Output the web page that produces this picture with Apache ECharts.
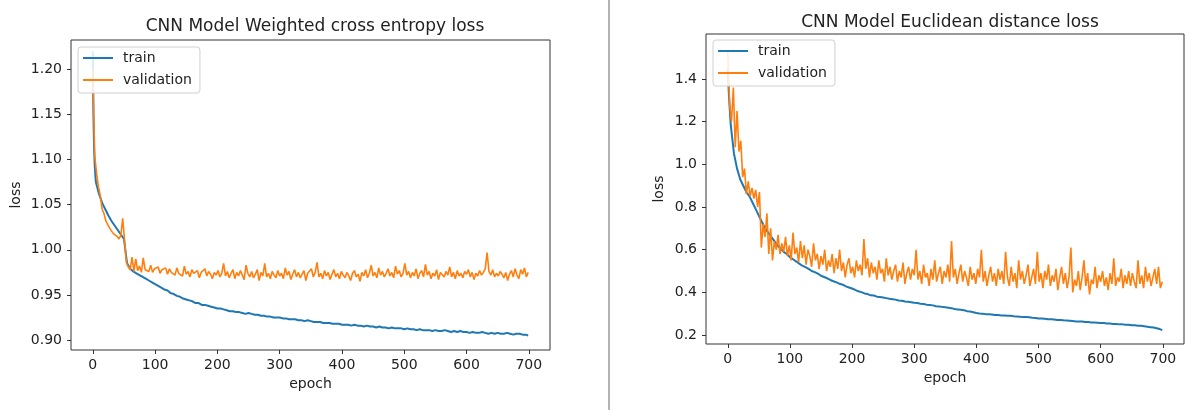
<!DOCTYPE html>
<html>
<head>
<meta charset="utf-8">
<title>CNN Model loss</title>
<script src="https://cdn.jsdelivr.net/npm/echarts@6/dist/echarts.min.js"></script>
<style>
    html, body { margin: 0; padding: 0; background: #fff; }
    #myChart { width: 1186px; height: 410px; }
</style>
</head>
<body>
<div id="myChart"></div>
<script>
    // epochs for the train curves (smooth, so every 5th epoch is enough)
    var trainEpochs = [0, 1, 2, 3, 4,
        5, 10, 15, 20, 25, 30, 35, 40, 45, 50,
        55, 60, 65, 70, 75, 80, 85, 90, 95, 100,
        105, 110, 115, 120, 125, 130, 135, 140, 145, 150,
        155, 160, 165, 170, 175, 180, 185, 190, 195, 200,
        205, 210, 215, 220, 225, 230, 235, 240, 245, 250,
        255, 260, 265, 270, 275, 280, 285, 290, 295, 300,
        305, 310, 315, 320, 325, 330, 335, 340, 345, 350,
        355, 360, 365, 370, 375, 380, 385, 390, 395, 400,
        405, 410, 415, 420, 425, 430, 435, 440, 445, 450,
        455, 460, 465, 470, 475, 480, 485, 490, 495, 500,
        505, 510, 515, 520, 525, 530, 535, 540, 545, 550,
        555, 560, 565, 570, 575, 580, 585, 590, 595, 600,
        605, 610, 615, 620, 625, 630, 635, 640, 645, 650,
        655, 660, 665, 670, 675, 680, 685, 690, 695, 699];

    // epochs for the validation curves (noisy, every 3rd epoch)
    var valEpochs = [0, 3, 6, 9, 12, 15, 18, 21, 24, 27,
        30, 33, 36, 39, 42, 45, 48, 51, 54, 57,
        60, 63, 66, 69, 72, 75, 78, 81, 84, 87,
        90, 93, 96, 99, 102, 105, 108, 111, 114, 117,
        120, 123, 126, 129, 132, 135, 138, 141, 144, 147,
        150, 153, 156, 159, 162, 165, 168, 171, 174, 177,
        180, 183, 186, 189, 192, 195, 198, 201, 204, 207,
        210, 213, 216, 219, 222, 225, 228, 231, 234, 237,
        240, 243, 246, 249, 252, 255, 258, 261, 264, 267,
        270, 273, 276, 279, 282, 285, 288, 291, 294, 297,
        300, 303, 306, 309, 312, 315, 318, 321, 324, 327,
        330, 333, 336, 339, 342, 345, 348, 351, 354, 357,
        360, 363, 366, 369, 372, 375, 378, 381, 384, 387,
        390, 393, 396, 399, 402, 405, 408, 411, 414, 417,
        420, 423, 426, 429, 432, 435, 438, 441, 444, 447,
        450, 453, 456, 459, 462, 465, 468, 471, 474, 477,
        480, 483, 486, 489, 492, 495, 498, 501, 504, 507,
        510, 513, 516, 519, 522, 525, 528, 531, 534, 537,
        540, 543, 546, 549, 552, 555, 558, 561, 564, 567,
        570, 573, 576, 579, 582, 585, 588, 591, 594, 597,
        600, 603, 606, 609, 612, 615, 618, 621, 624, 627,
        630, 633, 636, 639, 642, 645, 648, 651, 654, 657,
        660, 663, 666, 669, 672, 675, 678, 681, 684, 687,
        690, 693, 696, 699];

    // left chart: weighted cross entropy
    var wceTrain = [1.220, 1.150, 1.115, 1.095, 1.083,
        1.075, 1.062, 1.052, 1.045, 1.038, 1.032, 1.027, 1.022, 1.017, 1.012,
        0.985, 0.979, 0.976, 0.974, 0.972, 0.970, 0.968, 0.966, 0.964, 0.962,
        0.960, 0.958, 0.956, 0.955, 0.952, 0.951, 0.949, 0.948, 0.946, 0.945,
        0.944, 0.943, 0.941, 0.941, 0.939, 0.939, 0.938, 0.937, 0.936, 0.935,
        0.935, 0.934, 0.933, 0.932, 0.932, 0.931, 0.931, 0.930, 0.929, 0.930,
        0.929, 0.928, 0.928, 0.927, 0.927, 0.926, 0.926, 0.925, 0.925, 0.925,
        0.924, 0.924, 0.923, 0.923, 0.923, 0.922, 0.922, 0.921, 0.922, 0.921,
        0.920, 0.920, 0.920, 0.919, 0.919, 0.919, 0.918, 0.918, 0.918, 0.917,
        0.917, 0.917, 0.916, 0.917, 0.916, 0.916, 0.915, 0.916, 0.915, 0.915,
        0.914, 0.915, 0.914, 0.914, 0.913, 0.914, 0.913, 0.913, 0.913, 0.912,
        0.913, 0.912, 0.912, 0.911, 0.912, 0.911, 0.911, 0.911, 0.910, 0.911,
        0.910, 0.910, 0.911, 0.910, 0.909, 0.910, 0.909, 0.910, 0.909, 0.909,
        0.908, 0.909, 0.908, 0.908, 0.909, 0.908, 0.907, 0.908, 0.907, 0.908,
        0.907, 0.907, 0.908, 0.907, 0.906, 0.907, 0.907, 0.906, 0.906, 0.905];
    var wceVal = [1.200, 1.105, 1.085, 1.070, 1.060, 1.045, 1.040, 1.032, 1.028, 1.024,
        1.022, 1.018, 1.020, 1.015, 1.012, 1.016, 1.035, 1.010, 0.986, 0.981,
        0.978, 0.992, 0.976, 0.990, 0.977, 0.982, 0.975, 0.991, 0.978, 0.980,
        0.976, 0.983, 0.975, 0.979, 0.977, 0.981, 0.974, 0.978, 0.976, 0.980,
        0.973, 0.979, 0.975, 0.977, 0.972, 0.980, 0.974, 0.976, 0.971, 0.982,
        0.973, 0.976, 0.970, 0.978, 0.974, 0.972, 0.977, 0.969, 0.975, 0.973,
        0.979, 0.971, 0.976, 0.973, 0.968, 0.975, 0.972, 0.977, 0.970, 0.974,
        0.985, 0.971, 0.976, 0.969, 0.974, 0.978, 0.968, 0.975, 0.971, 0.977,
        0.972, 0.967, 0.983, 0.974, 0.970, 0.976, 0.969, 0.973, 0.978, 0.966,
        0.975, 0.971, 0.985, 0.970, 0.974, 0.968, 0.976, 0.972, 0.969, 0.977,
        0.971, 0.974, 0.968, 0.980, 0.972, 0.976, 0.967, 0.973, 0.978, 0.970,
        0.975, 0.969, 0.973, 0.977, 0.966, 0.974, 0.972, 0.979, 0.970, 0.975,
        0.986, 0.970, 0.974, 0.968, 0.977, 0.971, 0.975, 0.967, 0.973, 0.978,
        0.970, 0.974, 0.968, 0.976, 0.972, 0.969, 0.975, 0.971, 0.966, 0.974,
        0.977, 0.970, 0.973, 0.965, 0.975, 0.971, 0.978, 0.969, 0.974, 0.983,
        0.971, 0.975, 0.969, 0.980, 0.972, 0.976, 0.970, 0.974, 0.979, 0.971,
        0.975, 0.969, 0.982, 0.973, 0.977, 0.970, 0.974, 0.985, 0.972, 0.976,
        0.969, 0.975, 0.971, 0.979, 0.968, 0.974, 0.977, 0.970, 0.984, 0.972,
        0.976, 0.968, 0.974, 0.971, 0.978, 0.967, 0.975, 0.973, 0.970, 0.976,
        0.972, 0.981, 0.970, 0.975, 0.968, 0.977, 0.971, 0.974, 0.969, 0.976,
        0.973, 0.978, 0.970, 0.975, 0.967, 0.974, 0.971, 0.977, 0.972, 0.975,
        0.979, 0.997, 0.976, 0.972, 0.978, 0.970, 0.974, 0.971, 0.976, 0.973,
        0.969, 0.975, 0.966, 0.973, 0.977, 0.970, 0.979, 0.972, 0.968, 0.978,
        0.973, 0.980, 0.970, 0.975];

    // right chart: euclidean distance
    var eucTrain = [1.45, 1.38, 1.32, 1.27, 1.22,
        1.18, 1.05, 0.98, 0.93, 0.90, 0.87, 0.85, 0.82, 0.79, 0.76,
        0.73, 0.70, 0.68, 0.66, 0.64, 0.62, 0.605, 0.59, 0.58, 0.565,
        0.555, 0.545, 0.535, 0.525, 0.518, 0.510, 0.500, 0.495, 0.488, 0.478,
        0.472, 0.466, 0.458, 0.452, 0.447, 0.440, 0.436, 0.428, 0.423, 0.418,
        0.412, 0.405, 0.401, 0.395, 0.392, 0.386, 0.385, 0.380, 0.378, 0.376,
        0.373, 0.370, 0.368, 0.366, 0.362, 0.361, 0.357, 0.356, 0.354, 0.351,
        0.350, 0.347, 0.346, 0.342, 0.341, 0.339, 0.335, 0.334, 0.332, 0.330,
        0.328, 0.326, 0.322, 0.320, 0.318, 0.316, 0.312, 0.310, 0.307, 0.303,
        0.301, 0.300, 0.298, 0.297, 0.296, 0.294, 0.294, 0.292, 0.292, 0.290,
        0.290, 0.288, 0.287, 0.286, 0.284, 0.284, 0.283, 0.281, 0.280, 0.278,
        0.277, 0.276, 0.274, 0.274, 0.273, 0.271, 0.271, 0.269, 0.268, 0.267,
        0.266, 0.264, 0.264, 0.263, 0.261, 0.261, 0.259, 0.259, 0.258, 0.256,
        0.256, 0.254, 0.254, 0.252, 0.252, 0.250, 0.250, 0.248, 0.248, 0.246,
        0.246, 0.244, 0.243, 0.241, 0.239, 0.237, 0.235, 0.232, 0.228, 0.223];
    var eucVal = [1.53, 1.28, 1.20, 1.36, 1.08, 1.25, 1.06, 1.11, 0.94, 0.98,
        0.86, 0.92, 0.85, 0.89, 0.84, 0.88, 0.80, 0.87, 0.61, 0.72,
        0.66, 0.77, 0.58, 0.70, 0.55, 0.64, 0.60, 0.67, 0.58, 0.63,
        0.59, 0.66, 0.57, 0.62, 0.55, 0.68, 0.58, 0.61, 0.54, 0.64,
        0.56, 0.62, 0.53, 0.60, 0.57, 0.52, 0.63, 0.55, 0.58, 0.51,
        0.57, 0.53, 0.60, 0.50, 0.55, 0.52, 0.58, 0.49, 0.56, 0.51,
        0.60, 0.50, 0.54, 0.47, 0.53, 0.56, 0.49, 0.52, 0.47, 0.55,
        0.50, 0.53, 0.48, 0.65, 0.51, 0.56, 0.47, 0.54, 0.49, 0.52,
        0.46, 0.55, 0.49, 0.51, 0.45, 0.56, 0.48, 0.52, 0.46, 0.50,
        0.53, 0.45, 0.50, 0.47, 0.54, 0.44, 0.49, 0.52, 0.46, 0.51,
        0.48, 0.60, 0.46, 0.50, 0.44, 0.53, 0.47, 0.49, 0.43, 0.51,
        0.46, 0.55, 0.45, 0.49, 0.52, 0.44, 0.50, 0.47, 0.53, 0.45,
        0.64, 0.47, 0.51, 0.44, 0.49, 0.53, 0.45, 0.50, 0.47, 0.43,
        0.52, 0.46, 0.49, 0.44, 0.51, 0.47, 0.60, 0.45, 0.50, 0.43,
        0.48, 0.52, 0.45, 0.49, 0.43, 0.51, 0.46, 0.50, 0.44, 0.59,
        0.47, 0.43, 0.52, 0.45, 0.49, 0.42, 0.55, 0.46, 0.50, 0.44,
        0.48, 0.53, 0.43, 0.47, 0.51, 0.44, 0.59, 0.45, 0.49, 0.42,
        0.50, 0.46, 0.53, 0.43, 0.48, 0.45, 0.51, 0.41, 0.47, 0.52,
        0.44, 0.49, 0.42, 0.47, 0.61, 0.40, 0.46, 0.43, 0.50, 0.41,
        0.47, 0.55, 0.43, 0.49, 0.39, 0.46, 0.44, 0.52, 0.42, 0.48,
        0.45, 0.50, 0.43, 0.47, 0.41, 0.49, 0.44, 0.56, 0.43, 0.47,
        0.45, 0.51, 0.42, 0.48, 0.44, 0.50, 0.43, 0.49, 0.45, 0.42,
        0.55, 0.44, 0.48, 0.42, 0.52, 0.45, 0.49, 0.43, 0.47, 0.51,
        0.44, 0.52, 0.42, 0.45];

    // tick labels
    var xTicks = [0, 100, 200, 300, 400, 500, 600, 700];
    var wceTicks = [0.90, 0.95, 1.00, 1.05, 1.10, 1.15, 1.20];
    var eucTicks = [0.2, 0.4, 0.6, 0.8, 1.0, 1.2, 1.4];

    var blue = '#1f77b4';
    var orange = '#ff7f0e';
    var txt = '#222';
    var font = 'DejaVu Sans';

    function pairs(xs, vals) {
        return xs.map(function (e, i) { return [e, vals[i]]; });
    }

    function xAxisFor(idx) {
        return {
            type: 'value', gridIndex: idx, min: -35, max: 734,
            name: 'epoch', nameLocation: 'middle', nameGap: 26,
            nameTextStyle: { color: txt, fontSize: 14, fontFamily: font },
            axisLine: { show: false, onZero: false },
            splitLine: { show: false },
            axisTick: { show: true, length: 4, lineStyle: { color: '#333' }, customValues: xTicks },
            axisLabel: { color: txt, fontSize: 14, fontFamily: font, margin: 8, customValues: xTicks }
        };
    }

    function yAxisFor(idx, min, max, ticks, digits, gap) {
        return {
            type: 'value', gridIndex: idx, min: min, max: max,
            name: 'loss', nameLocation: 'middle', nameGap: gap, nameRotate: 90,
            nameTextStyle: { color: txt, fontSize: 14, fontFamily: font },
            axisLine: { show: false, onZero: false },
            splitLine: { show: false },
            axisTick: { show: true, length: 4, lineStyle: { color: '#333' }, customValues: ticks },
            axisLabel: {
                color: txt, fontSize: 14, fontFamily: font, margin: 9, customValues: ticks,
                formatter: function (v) { return v.toFixed(digits); }
            }
        };
    }

    function lineSeries(name, color, idx, xs, vals, w) {
        return {
            name: name, type: 'line', xAxisIndex: idx, yAxisIndex: idx,
            symbol: 'none', showSymbol: false,
            lineStyle: { color: color, width: w },
            itemStyle: { color: color },
            data: pairs(xs, vals)
        };
    }

    function legendAt(left, top) {
        return {
            orient: 'vertical', left: left, top: top,
            data: ['train', 'validation'],
            icon: 'rect',
            itemWidth: 30, itemHeight: 2, itemGap: 8,
            padding: [4, 8, 6, 5],
            backgroundColor: 'rgba(255,255,255,0.85)',
            borderColor: '#d0d0d0', borderWidth: 1, borderRadius: 3,
            selectedMode: false,
            textStyle: { color: txt, fontSize: 14, lineHeight: 14, fontFamily: font, padding: [0, 0, 0, 5] }
        };
    }

    var myChart = echarts.init(document.getElementById('myChart'), null, { renderer: 'canvas' });
    myChart.setOption({
        backgroundColor: '#fff',
        animation: false,
        title: [
            { text: 'CNN Model Weighted cross entropy loss', left: 310, top: 13, textAlign: 'center',
              textStyle: { color: txt, fontSize: 17, fontWeight: 'normal', fontFamily: font } },
            { text: 'CNN Model Euclidean distance loss', left: 945, top: 9, textAlign: 'center',
              textStyle: { color: txt, fontSize: 17, fontWeight: 'normal', fontFamily: font } }
        ],
        legend: [legendAt(78, 47), legendAt(713, 40)],
        grid: [
            { left: 71, top: 40, width: 479, height: 310, show: true, borderColor: '#333', borderWidth: 1, backgroundColor: 'transparent' },
            { left: 706, top: 34, width: 478, height: 310, show: true, borderColor: '#333', borderWidth: 1, backgroundColor: 'transparent' }
        ],
        xAxis: [xAxisFor(0), xAxisFor(1)],
        yAxis: [
            yAxisFor(0, 0.889, 1.2325, wceTicks, 2, 48),
            yAxisFor(1, 0.158, 1.611, eucTicks, 1, 40)
        ],
        // divider between the two panels
        graphic: [{
            type: 'line', silent: true,
            shape: { x1: 609, y1: 0, x2: 609, y2: 410 },
            style: { stroke: '#9a9a9a', lineWidth: 1.5 }
        }],
        series: [
            lineSeries('train', blue, 0, trainEpochs, wceTrain, 2),
            lineSeries('validation', orange, 0, valEpochs, wceVal, 1.6),
            lineSeries('train', blue, 1, trainEpochs, eucTrain, 2),
            lineSeries('validation', orange, 1, valEpochs, eucVal, 1.6)
        ]
    });
</script>
</body>
</html>
